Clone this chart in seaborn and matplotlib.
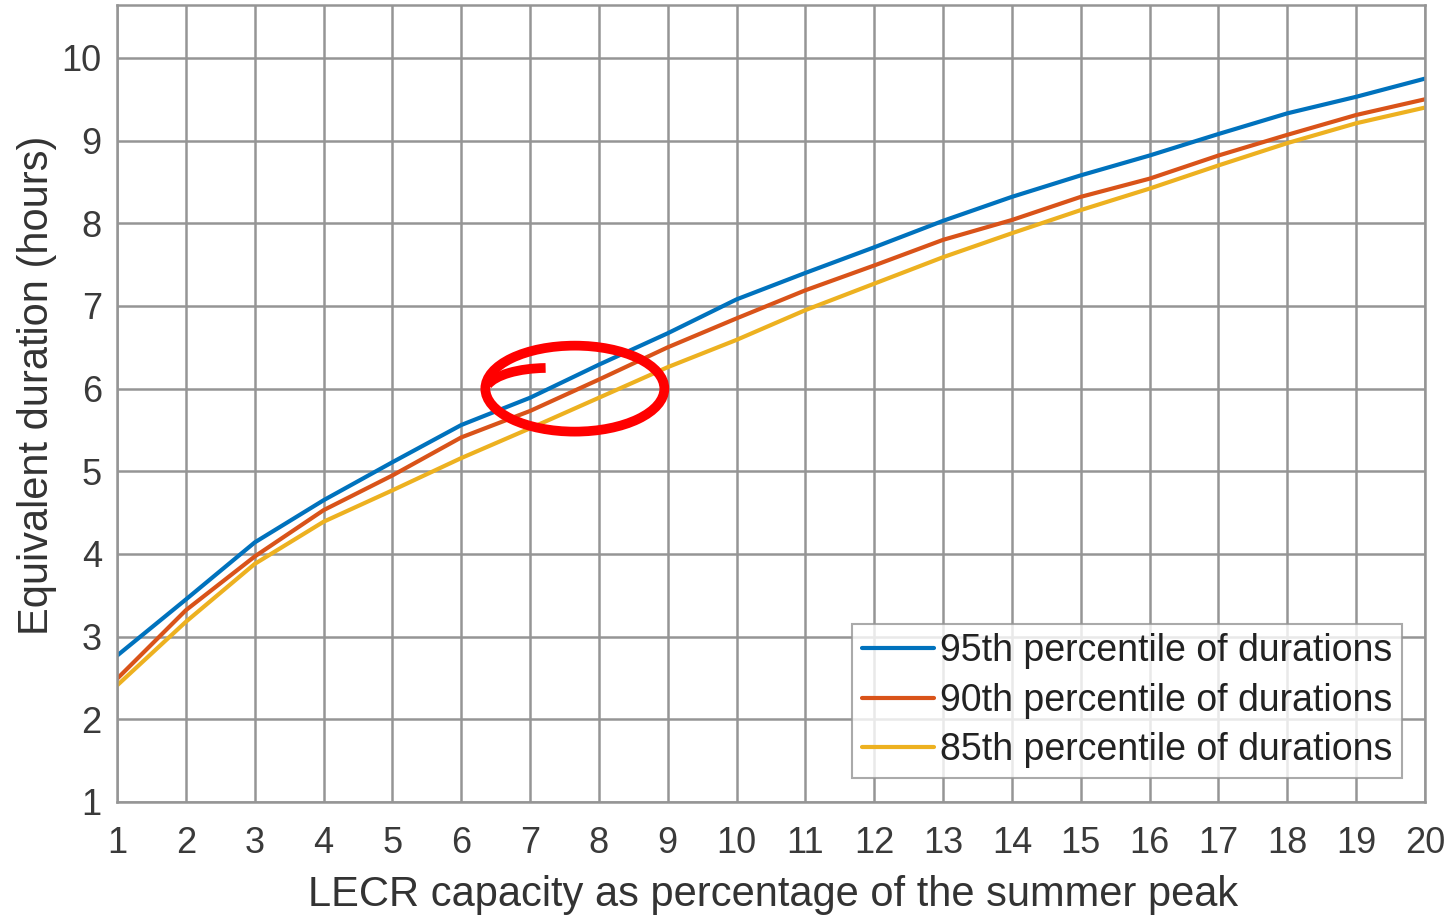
import matplotlib
matplotlib.use("Agg")
import matplotlib.pyplot as plt
from matplotlib.patches import Ellipse, Arc
import numpy as np
import pandas as pd
import seaborn as sns

# LECR capacity (% of summer peak)
capacity = list(range(1, 21))

# equivalent duration (hours)
p95 = [2.77, 3.45, 4.14, 4.65, 5.11, 5.56, 5.89, 6.29, 6.67, 7.08,
       7.40, 7.71, 8.03, 8.32, 8.58, 8.82, 9.08, 9.33, 9.53, 9.75]
p90 = [2.49, 3.32, 3.97, 4.53, 4.95, 5.41, 5.73, 6.11, 6.50, 6.85,
       7.19, 7.49, 7.80, 8.04, 8.32, 8.54, 8.82, 9.07, 9.31, 9.50]
p85 = [2.41, 3.18, 3.88, 4.39, 4.77, 5.16, 5.52, 5.89, 6.26, 6.59,
       6.95, 7.27, 7.59, 7.88, 8.16, 8.42, 8.70, 8.97, 9.21, 9.40]

labels = ["95th percentile of durations",
          "90th percentile of durations",
          "85th percentile of durations"]
colors = ["#0072BD", "#D95319", "#EDB120"]

df = pd.concat([
    pd.DataFrame({"cap": capacity, "dur": vals, "series": lab})
    for vals, lab in zip([p95, p90, p85], labels)
])

sns.set_theme(style="whitegrid")
plt.rcParams["font.family"] = ["Liberation Sans", "DejaVu Sans"]

fig = plt.figure(figsize=(14.47, 9.15), dpi=100)
ax = fig.add_axes([0.0809, 0.1235, 0.9039, 0.8710])

sns.lineplot(data=df, x="cap", y="dur", hue="series", hue_order=labels,
             palette=colors, linewidth=3.0, ax=ax)

ax.set_xlim(1, 20)
ax.set_ylim(1, 10.64)
ax.set_xticks(capacity)
ax.set_yticks(range(1, 11))
ax.grid(True, color="#959595", linewidth=1.8)
for s in ax.spines.values():
    s.set_color("#959595")
    s.set_linewidth(1.8)
ax.tick_params(axis="both", labelsize=26, colors="#3a3a3a", length=0)
ax.tick_params(axis="x", pad=17)
ax.tick_params(axis="y", pad=11)
ax.set_xlabel("LECR capacity as percentage of the summer peak",
              fontsize=30, color="#333333")
ax.set_ylabel("Equivalent duration (hours)", fontsize=30, color="#333333")
ax.xaxis.set_label_coords(0.5015, -0.091)
ax.yaxis.set_label_coords(-0.046, 0.523)

# hand-drawn red highlight
ax.add_patch(Ellipse((7.65, 6.0), 2.6, 1.04, fill=False,
                     edgecolor="red", linewidth=7, zorder=5))
ax.add_patch(Arc((7.25, 5.97), 1.8, 0.56, theta1=95, theta2=175,
                 edgecolor="red", linewidth=7, zorder=5))

leg = ax.legend(loc="lower right", bbox_to_anchor=(0.9824, 0.030),
                borderaxespad=0, fontsize=27, frameon=True, fancybox=False,
                handlelength=1.92, handletextpad=0.16, labelspacing=0.36,
                borderpad=0.26)
leg.get_frame().set_edgecolor("#959595")
leg.get_frame().set_linewidth(1.5)
for t in leg.get_texts():
    t.set_color("#222222")
for h in leg.get_lines():
    h.set_linewidth(3)

fig.savefig("out.png", dpi=100)
